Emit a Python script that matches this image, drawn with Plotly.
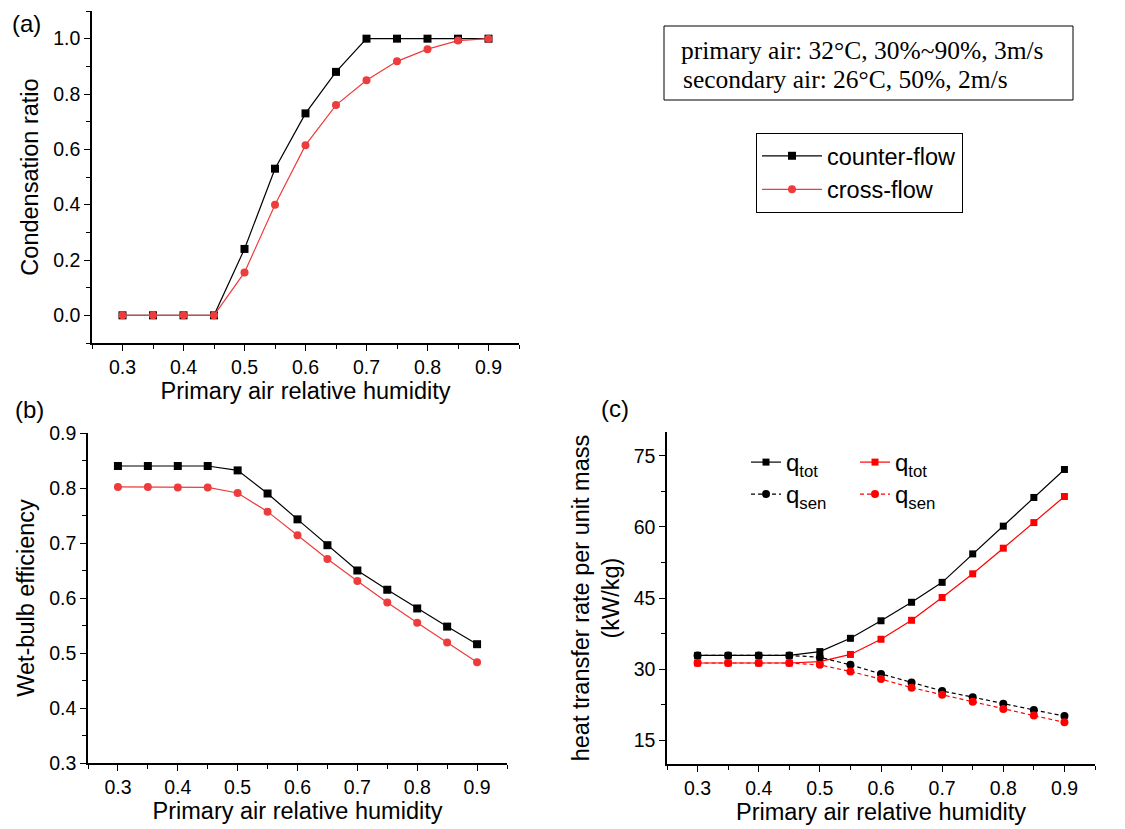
import plotly.graph_objects as go

rh = [0.30, 0.35, 0.40, 0.45, 0.50, 0.55, 0.60, 0.65, 0.70, 0.75, 0.80, 0.85, 0.90]

cond_counter = [0, 0, 0, 0, 0.24, 0.53, 0.73, 0.88, 1.0, 1.0, 1.0, 1.0, 1.0]
cond_cross = [0, 0, 0, 0, 0.155, 0.40, 0.615, 0.76, 0.85, 0.918, 0.962, 0.993, 1.0]

wb_counter = [0.840, 0.840, 0.840, 0.840, 0.832, 0.790, 0.743, 0.696, 0.650, 0.615, 0.581, 0.548, 0.516]
wb_cross = [0.802, 0.802, 0.801, 0.801, 0.791, 0.757, 0.714, 0.671, 0.631, 0.592, 0.555, 0.519, 0.483]

qtot_counter = [32.9, 32.9, 32.9, 32.9, 33.7, 36.5, 40.2, 44.1, 48.3, 54.3, 60.15, 66.2, 72.1]
qtot_cross = [31.3, 31.3, 31.3, 31.3, 31.6, 33.1, 36.3, 40.3, 45.1, 50.1, 55.5, 60.9, 66.4]
qsen_counter = [32.9, 32.9, 32.9, 32.9, 32.5, 30.9, 29.0, 27.2, 25.4, 24.1, 22.7, 21.4, 20.1]
qsen_cross = [31.3, 31.3, 31.3, 31.3, 30.9, 29.5, 27.9, 26.1, 24.6, 23.1, 21.6, 20.2, 18.8]

# page body margin offsets the figure by 8px; size figure to fill the window
OFF = 8
W, H = 1125 - OFF, 829 - OFF


def px(x):
    return (x - OFF) / W


def py(y):
    return 1 - (y - OFF) / H


BLACK = "#000000"
RED_AB = "#EE3B3B"
RED_C = "#FF0000"
SANS = "Liberation Sans, Arial, sans-serif"
SERIF = "Liberation Serif, Times New Roman, serif"

fig = go.Figure()

# (a)
fig.add_trace(go.Scatter(x=rh, y=cond_counter, mode="lines+markers", name="counter-flow",
                         line=dict(color=BLACK, width=1.2), marker=dict(symbol="square", size=8, color=BLACK),
                         xaxis="x", yaxis="y", legend="legend"))
fig.add_trace(go.Scatter(x=rh, y=cond_cross, mode="lines+markers", name="cross-flow",
                         line=dict(color=RED_AB, width=1.2), marker=dict(symbol="circle", size=8, color=RED_AB),
                         xaxis="x", yaxis="y", legend="legend"))
# (b)
fig.add_trace(go.Scatter(x=rh, y=wb_counter, mode="lines+markers", showlegend=False,
                         line=dict(color=BLACK, width=1.2), marker=dict(symbol="square", size=8, color=BLACK),
                         xaxis="x2", yaxis="y2"))
fig.add_trace(go.Scatter(x=rh, y=wb_cross, mode="lines+markers", showlegend=False,
                         line=dict(color=RED_AB, width=1.2), marker=dict(symbol="circle", size=8, color=RED_AB),
                         xaxis="x2", yaxis="y2"))
# (c)
fig.add_trace(go.Scatter(x=rh, y=qtot_counter, mode="lines+markers", name="q<sub>tot</sub>",
                         line=dict(color=BLACK, width=1.2), marker=dict(symbol="square", size=7, color=BLACK),
                         xaxis="x3", yaxis="y3", legend="legend2"))
fig.add_trace(go.Scatter(x=rh, y=qtot_cross, mode="lines+markers", name="q<sub>tot</sub>",
                         line=dict(color=RED_C, width=1.2), marker=dict(symbol="square", size=7, color=RED_C),
                         xaxis="x3", yaxis="y3", legend="legend2"))
fig.add_trace(go.Scatter(x=rh, y=qsen_counter, mode="lines+markers", name="q<sub>sen</sub>",
                         line=dict(color=BLACK, width=1.2, dash="4px,3px"), marker=dict(symbol="circle", size=8, color=BLACK),
                         xaxis="x3", yaxis="y3", legend="legend3"))
fig.add_trace(go.Scatter(x=rh, y=qsen_cross, mode="lines+markers", name="q<sub>sen</sub>",
                         line=dict(color=RED_C, width=1.2, dash="4px,3px"), marker=dict(symbol="circle", size=8, color=RED_C),
                         xaxis="x3", yaxis="y3", legend="legend3"))


def base_axis(**kw):
    d = dict(showline=True, linecolor="black", linewidth=1.5, ticks="outside", ticklen=6,
             tickwidth=1.3, tickcolor="black", showgrid=False, zeroline=False, mirror=False,
             automargin=False,
             tickfont=dict(family=SANS, size=19.5, color="black"))
    d.update(kw)
    return d


def minor(t0, dt):
    return dict(ticks="outside", ticklen=4, tickwidth=1.3, tickcolor="black", tick0=t0, dtick=dt, showgrid=False)


def xax(domain, anchor):
    return base_axis(domain=domain, anchor=anchor, range=[0.25, 0.95], tick0=0.3, dtick=0.1,
                     tickformat=".1f", minor=minor(0.25, 0.05),
                     title=dict(text="Primary air relative humidity", font=dict(family=SANS, size=23.5, color="black"),
                                standoff=2))


dom_a_x = [px(92), px(519)]
dom_a_y = [py(343), py(11)]
dom_b_x = [px(88), px(507)]
dom_b_y = [py(763), py(433)]
dom_c_x = [px(667), px(1095)]
dom_c_y = [py(764), py(432)]

fig.update_layout(
    width=W, height=H,
    margin=dict(l=0, r=0, t=0, b=0, autoexpand=False),
    paper_bgcolor="white", plot_bgcolor="white",
    font=dict(family=SANS, color="black"),
    xaxis=xax(dom_a_x, "y"),
    yaxis=base_axis(domain=dom_a_y, anchor="x", range=[-0.1, 1.1], tick0=0, dtick=0.2, tickformat=".1f",
                    minor=minor(0, 0.1),
                    title=dict(text="Condensation ratio", font=dict(family=SANS, size=23.5, color="black"), standoff=8)),
    xaxis2=xax(dom_b_x, "y2"),
    yaxis2=base_axis(domain=dom_b_y, anchor="x2", range=[0.3, 0.9], tick0=0.3, dtick=0.1, tickformat=".1f",
                     minor=minor(0.3, 0.05),
                     title=dict(text="Wet-bulb efficiency", font=dict(family=SANS, size=23.5, color="black"), standoff=8)),
    xaxis3=xax(dom_c_x, "y3"),
    yaxis3=base_axis(domain=dom_c_y, anchor="x3", range=[10, 80], tick0=15, dtick=15,
                     minor=minor(0, 7.5),
                     title=dict(text="heat transfer rate per unit mass<br>(kW/kg)",
                                font=dict(family=SANS, size=23.5, color="black"), standoff=7)),
    legend=dict(x=px(756), y=py(133), xanchor="left", yanchor="top", bordercolor="black", borderwidth=1,
                bgcolor="white", font=dict(family=SANS, size=23.5, color="black"), tracegroupgap=0,
                itemwidth=60),
    legend2=dict(x=px(746), y=py(440), xanchor="left", yanchor="top", orientation="h",
                 entrywidth=64, entrywidthmode="pixels", bgcolor="rgba(0,0,0,0)",
                 font=dict(family=SANS, size=24, color="black")),
    legend3=dict(x=px(746), y=py(472), xanchor="left", yanchor="top", orientation="h",
                 entrywidth=64, entrywidthmode="pixels", bgcolor="rgba(0,0,0,0)",
                 font=dict(family=SANS, size=24, color="black")),
)

# info box
fig.add_shape(type="rect", xref="paper", yref="paper", x0=px(664), x1=px(1073), y0=py(100), y1=py(26),
              line=dict(color="black", width=1))
fig.add_annotation(xref="paper", yref="paper", x=px(679), y=py(50), xanchor="left", yanchor="middle",
                   text="primary air: 32°C, 30%~90%, 3m/s", showarrow=False,
                   font=dict(family=SERIF, size=25.5, color="black"))
fig.add_annotation(xref="paper", yref="paper", x=px(681), y=py(79), xanchor="left", yanchor="middle",
                   text="secondary air: 26°C, 50%, 2m/s", showarrow=False,
                   font=dict(family=SERIF, size=25.5, color="black"))

# panel labels
for txt, x, y in [("(a)", 27, 23), ("(b)", 29, 410), ("(c)", 615, 408)]:
    fig.add_annotation(xref="paper", yref="paper", x=px(x), y=py(y), xanchor="center", yanchor="middle",
                       text=txt, showarrow=False, font=dict(family=SANS, size=24, color="black"))

fig.write_html("out.html")
